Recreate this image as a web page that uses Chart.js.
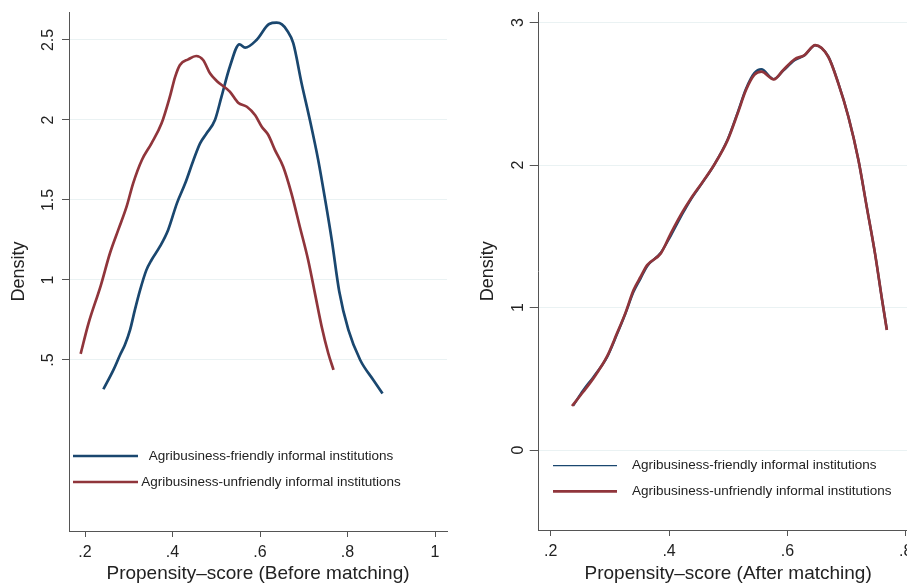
<!DOCTYPE html>
<html>
<head>
<meta charset="utf-8">
<script src="https://cdn.jsdelivr.net/npm/chart.js@4.4.0/dist/chart.umd.min.js"></script>
<style>
  html, body { margin:0; padding:0; background:#fff; overflow:hidden; width:907px; height:588px; }
  canvas { position:absolute; top:0; }
  #before { left:0; }
  #after { left:460px; }
</style>
</head>
<body>
<canvas id="before" width="460" height="588"></canvas>
<canvas id="after" width="480" height="588"></canvas>
<script>
// kernel density of the propensity score
const seriesNames = ['Agribusiness-friendly informal institutions', 'Agribusiness-unfriendly informal institutions'];

// before matching
const beforeFriendlyX = [0.242,0.265,0.280,0.291,0.303,0.314,0.326,0.340,0.352,0.371,0.390,0.410,0.429,0.448,0.463,0.478,0.497,0.512,0.531,0.553,0.566,0.592,0.621,0.638,0.650,0.661,0.676,0.695,0.714,0.733,0.749,0.764,0.781,0.802,0.829,0.859,0.880];
const beforeFriendlyY = [0.317,0.438,0.531,0.594,0.688,0.813,0.938,1.060,1.125,1.208,1.313,1.479,1.604,1.750,1.854,1.917,2.000,2.146,2.333,2.473,2.452,2.500,2.600,2.608,2.598,2.563,2.480,2.230,2.000,1.750,1.500,1.250,0.930,0.688,0.500,0.375,0.290];
const beforeUnfriendlyX = [0.190,0.208,0.236,0.257,0.276,0.295,0.310,0.330,0.352,0.375,0.394,0.406,0.417,0.436,0.454,0.470,0.486,0.501,0.531,0.550,0.570,0.589,0.604,0.619,0.634,0.653,0.672,0.691,0.710,0.726,0.741,0.756,0.768];
const beforeUnfriendlyY = [0.538,0.729,0.965,1.167,1.313,1.458,1.604,1.750,1.854,1.979,2.146,2.270,2.344,2.379,2.400,2.375,2.290,2.244,2.177,2.108,2.083,2.030,1.958,1.906,1.813,1.708,1.540,1.333,1.125,0.910,0.708,0.542,0.438];

// after matching
const afterFriendlyX = [0.238,0.255,0.272,0.295,0.312,0.326,0.340,0.352,0.363,0.386,0.403,0.423,0.437,0.457,0.476,0.499,0.516,0.530,0.544,0.556,0.577,0.593,0.612,0.629,0.647,0.669,0.686,0.703,0.720,0.734,0.748,0.760,0.768];
const afterFriendlyY = [0.312,0.420,0.512,0.650,0.812,0.955,1.110,1.205,1.290,1.385,1.505,1.660,1.760,1.880,2.000,2.180,2.370,2.535,2.645,2.672,2.603,2.662,2.735,2.770,2.840,2.762,2.575,2.340,2.036,1.708,1.380,1.053,0.845];
const afterUnfriendlyX = [0.236,0.255,0.272,0.295,0.312,0.326,0.340,0.352,0.363,0.386,0.403,0.423,0.437,0.457,0.476,0.499,0.516,0.530,0.544,0.556,0.577,0.593,0.612,0.629,0.647,0.669,0.686,0.703,0.720,0.734,0.748,0.760,0.768];
const afterUnfriendlyY = [0.309,0.409,0.503,0.655,0.819,0.959,1.123,1.216,1.298,1.380,1.521,1.673,1.766,1.883,2.000,2.175,2.363,2.526,2.632,2.655,2.601,2.667,2.742,2.772,2.842,2.760,2.573,2.339,2.035,1.707,1.380,1.053,0.842];

// ticks
const beforeXTicks = [0.2, 0.4, 0.6, 0.8, 1];
const beforeXLabels = ['.2', '.4', '.6', '.8', '1'];
const beforeYTicks = [0.5, 1, 1.5, 2, 2.5];
const beforeYLabels = ['.5', '1', '1.5', '2', '2.5'];
const afterXTicks = [0.2, 0.4, 0.6, 0.8];
const afterXLabels = ['.2', '.4', '.6', '.8'];
const afterYTicks = [0, 1, 2, 3];
const afterYLabels = ['0', '1', '2', '3'];

const BLUE = '#1a476f', RED = '#90353b';
const FONT = '"Liberation Sans", Arial, sans-serif';
const AXIS = '#555';
const GRID = '#eaf2f3';

function pts(xs, ys){ return xs.map((x,i)=>({x:x, y:ys[i]})); }

// rotated y tick labels + in-plot legend, drawn the way stata does it
function deco(cfg){
  return {
    id: 'deco',
    afterDraw(chart){
      const ctx = chart.ctx, ys = chart.scales.y;
      ctx.save();
      ctx.fillStyle = '#222';
      ctx.font = '16px ' + FONT;
      ctx.textAlign = 'center';
      ctx.textBaseline = 'alphabetic';
      cfg.yTicks.forEach((v,i)=>{
        ctx.save();
        ctx.translate(cfg.yLabelX, ys.getPixelForValue(v));
        ctx.rotate(-Math.PI/2);
        ctx.fillText(cfg.yLabels[i], 0, 0);
        ctx.restore();
      });
      // legend
      ctx.font = '13.5px ' + FONT;
      ctx.textBaseline = 'middle';
      ctx.textAlign = cfg.legAlign;
      chart.data.datasets.forEach((ds,i)=>{
        const y = cfg.legY[i];
        ctx.strokeStyle = ds.borderColor;
        ctx.lineWidth = cfg.legWidth[i];
        ctx.beginPath();
        ctx.moveTo(cfg.legX0, y);
        ctx.lineTo(cfg.legX1, y);
        ctx.stroke();
        ctx.fillText(ds.label, cfg.legTextX, y);
      });
      ctx.restore();
    }
  };
}

function makeChart(id, opt){
  return new Chart(document.getElementById(id), {
    type: 'line',
    data: {
      datasets: [
        { label: seriesNames[0], data: pts(opt.fx, opt.fy), borderColor: BLUE, borderWidth: opt.blueW, pointRadius: 0, cubicInterpolationMode: 'monotone', fill: false, order: 2 },
        { label: seriesNames[1], data: pts(opt.ux, opt.uy), borderColor: RED, borderWidth: 2.7, pointRadius: 0, cubicInterpolationMode: 'monotone', fill: false, order: 1 }
      ]
    },
    options: {
      responsive: false,
      animation: false,
      layout: { padding: { left: 0, top: opt.top, right: opt.right, bottom: 0 } },
      plugins: { legend: { display: false }, tooltip: { enabled: false } },
      scales: {
        x: {
          type: 'linear', min: opt.xmin, max: opt.xmax,
          afterBuildTicks: s => { s.ticks = opt.xTicks.map(v=>({value:v})); },
          afterFit: s => { s.height = 588 - opt.bottom; },
          ticks: { color: '#222', font: { family: FONT, size: 16 }, padding: 6, maxRotation: 0,
                   callback: v => opt.xLabels[opt.xTicks.indexOf(v)] },
          grid: { drawOnChartArea: false, drawTicks: true, tickLength: 6, tickColor: AXIS },
          border: { display: true, color: AXIS, width: 1 },
          title: { display: true, text: opt.xTitle, color: '#222', font: { family: FONT, size: 19, lineHeight: 1 }, padding: { top: 0, bottom: 5 } }
        },
        y: {
          type: 'linear', min: opt.ymin, max: opt.ymax,
          afterBuildTicks: s => { s.ticks = opt.yTicks.map(v=>({value:v})); },
          afterFit: s => { s.width = opt.left; },
          ticks: { display: false },
          grid: { color: GRID, lineWidth: 1, drawTicks: true, tickLength: opt.yTickLen, tickColor: AXIS },
          border: { display: true, color: AXIS, width: 1 },
          title: { display: true, text: 'Density', color: '#222', font: { family: FONT, size: 18, lineHeight: 1 }, padding: { top: opt.yTitlePad, bottom: 0 } }
        }
      }
    },
    plugins: [deco(opt.deco)]
  });
}

makeChart('before', {
  fx: beforeFriendlyX, fy: beforeFriendlyY, ux: beforeUnfriendlyX, uy: beforeUnfriendlyY,
  blueW: 2.7,
  xmin: 0.1634, xmax: 1.0274, ymin: -0.569, ymax: 2.675,
  xTicks: beforeXTicks, xLabels: beforeXLabels, yTicks: beforeYTicks,
  left: 69, top: 12, right: 13, bottom: 531, yTickLen: 7, yTitlePad: 10,
  xTitle: 'Propensity\u2013score (Before matching)',
  deco: { yTicks: beforeYTicks, yLabels: beforeYLabels, yLabelX: 53,
          legY: [456, 482], legWidth: [2.6, 2.6], legX0: 73, legX1: 138, legTextX: 271, legAlign: 'center' }
});

makeChart('after', {
  fx: afterFriendlyX, fy: afterFriendlyY, ux: afterUnfriendlyX, uy: afterUnfriendlyY,
  blueW: 2.4,
  xmin: 0.1797, xmax: 0.82, ymin: -0.561, ymax: 3.069,
  xTicks: afterXTicks, xLabels: afterXLabels, yTicks: afterYTicks,
  left: 78.7, top: 12.7, right: 22.4, bottom: 530, yTickLen: 9, yTitlePad: 19,
  xTitle: 'Propensity\u2013score (After matching)',
  deco: { yTicks: afterYTicks, yLabels: afterYLabels, yLabelX: 63.3,
          legY: [465.7, 491.3], legWidth: [1.3, 2.8], legX0: 93, legX1: 157, legTextX: 172, legAlign: 'left' }
});
</script>
</body>
</html>
